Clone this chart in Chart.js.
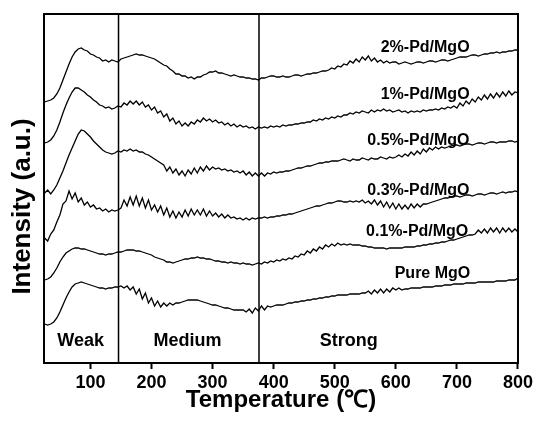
<!DOCTYPE html>
<html>
<head>
<meta charset="utf-8">
<script src="https://cdn.jsdelivr.net/npm/chart.js@4/dist/chart.umd.min.js"></script>
<style>
  html, body { margin: 0; padding: 0; background: #fff; }
</style>
</head>
<body>
<canvas id="tpd" width="536" height="421"></canvas>
<script>
// TPD profiles, intensity in a.u., one value every 5 C from 25 C
const startTemp = 25;
const tempStep = 5;

const pd2 = [
  261,262,263,265,269,275,283,291,299,306,
  311,314,315,313,312,309,308,306,305,302,
  303,301,303,302,301,304,305,306,307,308,
  309,308,308,307,306,305,304,302,300,298,
  297,294,292,289,289,287,287,285,286,284,
  286,286,288,289,291,291,292,290,290,289,
  288,287,288,287,286,286,285,285,284,284,
  283,285,285,286,287,287,286,286,287,286,
  286,287,288,288,287,288,289,289,290,290,
  291,292,292,293,295,294,297,296,299,298,
  302,300,304,301,306,303,307,302,305,301,
  303,300,302,300,301,301,299,300,301,300,
  299,300,301,301,300,301,302,302,301,302,
  303,303,302,303,304,305,306,306,306,307,
  308,308,307,308,309,309,310,310,311,310,
  311,311,312,312,313,313
];
const pd1 = [
  220,221,223,227,233,241,250,258,265,271,
  275,275,273,271,268,266,263,261,258,257,
  255,256,254,255,257,256,260,258,262,259,
  262,258,261,256,258,253,256,250,252,246,
  249,242,245,239,242,237,240,237,241,239,
  243,241,245,242,244,241,243,240,241,238,
  240,237,239,236,238,236,237,235,236,234,
  236,235,236,235,237,236,237,236,238,237,
  238,238,239,239,240,240,241,241,243,242,
  244,243,245,244,246,245,247,246,248,248,
  250,249,251,250,252,251,250,253,251,253,
  252,254,252,253,251,252,253,251,252,250,
  252,251,252,251,253,252,253,253,254,253,
  255,254,256,255,257,255,260,257,262,259,
  264,261,266,263,268,264,269,265,270,266,
  271,267,272,268,271,270
];
const pd05 = [
  170,173,169,173,178,185,192,200,208,215,
  222,229,233,232,229,226,222,219,216,213,
  211,210,209,210,212,211,213,212,214,212,
  213,211,211,209,208,206,204,202,200,198,
  192,196,190,194,188,192,187,193,189,195,
  190,196,192,197,193,196,194,195,193,194,
  192,193,191,192,190,192,188,191,187,190,
  187,190,187,190,189,191,190,191,191,192,
  192,193,194,195,195,196,197,197,198,199,
  200,200,201,201,202,202,202,203,204,203,
  202,204,203,203,205,204,203,205,204,204,
  206,205,204,206,205,206,208,206,209,207,
  211,208,212,209,214,211,215,213,216,214,
  216,215,216,217,218,218,217,218,219,219,
  218,219,220,220,219,220,221,221,220,221,
  221,221,222,222,221,222
];
const pd03 = [
  125,122,129,133,141,148,159,162,172,164,
  170,161,165,158,161,156,158,154,155,152,
  154,151,153,152,153,155,163,157,166,158,
  167,157,165,155,163,153,158,151,157,148,
  155,146,152,145,151,146,153,147,154,148,
  153,148,154,147,152,147,150,146,149,145,
  148,145,146,144,145,143,145,143,145,144,
  145,145,146,145,146,146,147,147,148,148,
  149,149,150,151,152,153,154,155,156,157,
  157,158,159,160,160,161,162,162,161,161,
  162,161,162,161,163,160,162,159,163,158,
  162,156,161,155,160,154,159,154,158,154,
  159,155,159,156,159,159,160,161,162,163,
  164,165,165,166,167,167,166,167,168,168,
  167,168,169,169,168,169,170,170,169,170,
  171,170,171,171,172,171
];
const pd01 = [
  83,84,86,90,95,101,106,110,112,114,
  115,115,114,114,113,112,111,110,109,109,
  108,109,109,110,111,111,112,113,113,113,
  112,112,111,110,109,108,106,105,104,103,
  101,101,100,101,102,103,104,104,105,105,
  106,105,105,104,104,103,102,102,101,101,
  100,101,100,100,99,100,99,99,98,99,
  100,99,101,100,102,101,103,102,104,103,
  105,104,107,106,109,108,112,110,114,112,
  116,114,118,116,119,117,120,118,119,118,
  119,118,118,118,117,117,116,116,115,115,
  115,115,114,115,115,115,115,115,116,116,
  116,116,117,117,118,118,119,119,120,120,
  121,121,122,123,123,124,125,126,127,128,
  128,129,133,130,134,130,135,131,135,130,
  135,131,135,131,134,131
];
const pureMgO = [
  39,38,39,41,45,51,58,65,71,76,
  79,80,81,80,79,78,77,76,75,75,
  74,75,75,76,76,77,75,77,73,76,
  69,74,64,70,60,65,57,62,56,60,
  57,60,58,60,60,61,62,63,63,63,
  63,62,61,60,59,58,58,57,56,55,
  55,54,53,53,53,53,51,54,50,55,
  52,57,53,57,56,57,58,58,58,59,
  60,60,61,61,62,62,63,63,64,64,
  65,65,66,66,67,67,68,68,68,68,
  69,69,69,69,70,70,72,69,73,70,
  74,70,74,71,75,73,75,73,74,74,
  75,75,75,75,76,76,76,76,77,77,
  77,78,78,78,79,79,79,79,80,80,
  80,80,81,81,81,81,81,81,82,82,
  82,82,83,83,83,85
];

const seriesList = [pd2, pd1, pd05, pd03, pd01, pureMgO];
const seriesNames = ['2%-Pd/MgO', '1%-Pd/MgO', '0.5%-Pd/MgO', '0.3%-Pd/MgO', '0.1%-Pd/MgO', 'Pure MgO'];
// where each name sits (temperature, intensity)
const nameTemps = [648, 648, 637, 637, 635, 660];
const nameLevels = [315, 268, 222, 172, 131, 89];

// acid strength regions
const regionBounds = [146, 376];
const regionNames = ['Weak', 'Medium', 'Strong'];
const regionTemps = [84, 259, 523];
const regionLevel = 22;

const xTicks = [100, 200, 300, 400, 500, 600, 700, 800];
const xMin = 24, xMax = 800;
const yMin = 0, yMax = 349;

const FONT = "'Liberation Sans', Arial, sans-serif";

const toPoints = (arr) => arr.map((v, i) => ({ x: startTemp + tempStep * i, y: v }));

const datasets = seriesList.map((s, i) => ({
  label: seriesNames[i],
  data: toPoints(s),
  borderColor: '#000',
  borderWidth: 1.3,
  pointRadius: 0,
  tension: 0
}));

regionBounds.forEach(t => {
  datasets.push({
    label: 'bound',
    data: [{ x: t, y: yMin }, { x: t, y: yMax }],
    borderColor: '#000',
    borderWidth: 1.5,
    pointRadius: 0
  });
});

const textPlugin = {
  id: 'textPlugin',
  afterDraw(chart) {
    const { ctx, chartArea, scales } = chart;
    const xs = scales.x, ys = scales.y;
    ctx.save();
    // frame
    ctx.strokeStyle = '#000';
    ctx.lineWidth = 2;
    ctx.strokeRect(chartArea.left, chartArea.top, chartArea.right - chartArea.left, chartArea.bottom - chartArea.top);

    ctx.fillStyle = '#000';
    ctx.textAlign = 'center';
    ctx.textBaseline = 'middle';
    ctx.font = 'bold 16px ' + FONT;
    seriesNames.forEach((n, i) => {
      ctx.fillText(n, xs.getPixelForValue(nameTemps[i]), ys.getPixelForValue(nameLevels[i]));
    });
    ctx.font = 'bold 18px ' + FONT;
    regionNames.forEach((n, i) => {
      ctx.fillText(n, xs.getPixelForValue(regionTemps[i]), ys.getPixelForValue(regionLevel));
    });

    // y title
    ctx.translate(chartArea.left - 21, (chartArea.top + chartArea.bottom) / 2 + 18);
    ctx.rotate(-Math.PI / 2);
    ctx.font = 'bold 26px ' + FONT;
    ctx.fillText('Intensity (a.u.)', 0, 0);
    ctx.restore();
  }
};

new Chart(document.getElementById('tpd'), {
  type: 'line',
  data: { datasets: datasets },
  options: {
    responsive: false,
    animation: false,
    devicePixelRatio: 1,
    layout: { padding: { top: 14, right: 16, left: 0, bottom: 0 } },
    plugins: { legend: { display: false }, tooltip: { enabled: false } },
    scales: {
      x: {
        type: 'linear',
        min: xMin,
        max: xMax,
        afterBuildTicks: (s) => { s.ticks = xTicks.map(v => ({ value: v })); },
        afterFit: (s) => { s.height = 58; },
        ticks: { color: '#000', font: { family: FONT, size: 18, weight: 'bold' }, padding: 3, maxRotation: 0 },
        grid: { display: true, drawOnChartArea: false, drawTicks: true, tickLength: 6, tickWidth: 2, tickColor: '#000' },
        border: { display: true, color: '#000', width: 2 },
        title: {
          display: true,
          text: 'Temperature (℃)',
          color: '#000',
          font: { family: FONT, size: 24, weight: 'bold' },
          padding: { top: 0, bottom: 6 }
        }
      },
      y: {
        type: 'linear',
        min: yMin,
        max: yMax,
        afterFit: (s) => { s.width = 44; },
        ticks: { display: false },
        grid: { display: false },
        border: { display: true, color: '#000', width: 2 }
      }
    }
  },
  plugins: [textPlugin]
});
</script>
</body>
</html>
